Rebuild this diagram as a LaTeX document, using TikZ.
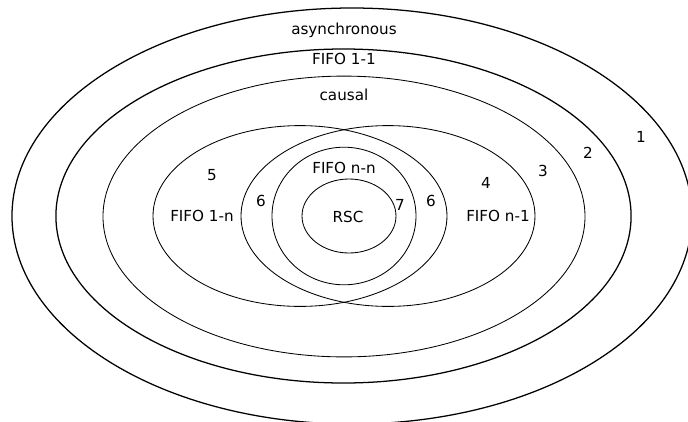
\documentclass[tikz,border=0pt]{standalone}
\usepackage{fontspec}
\setmainfont{DejaVu Sans}

\begin{document}
\begin{tikzpicture}[every node/.style={font=\fontsize{10.8}{13}\selectfont, inner sep=1pt}]
        \useasboundingbox (-8.6,-5.125) rectangle (8.6,5.4);

        % the classes, outside in
        \draw [line width=0.9pt] (0.2,0) ellipse (8.5 and 5.2);
        \draw [line width=0.9pt] (-0.0125,0) ellipse (7.19 and 4.175);
        \draw [line width=0.6pt] (0,-0.0125) ellipse (6.025 and 3.51);
        \draw [line width=0.6pt] (-1.1,0) ellipse (3.675 and 2.26);
        \draw [line width=0.6pt] (1.1,0) ellipse (3.675 and 2.26);
        \draw [line width=0.6pt] (0,0) ellipse (1.8 and 1.72);
        \draw [line width=0.6pt] (0.125,0) ellipse (1.175 and 0.925);

        \node (async) at (0,4.65) {asynchronous};
        \node (fifo11) at (0,3.925) {FIFO 1-1};
        \node (causal) at (0,3.025) {causal};
        \node (fifo1n) at (-3.55,0) {FIFO 1-n};
        \node (fifon1) at (3.85,0) {FIFO n-1};
        \node (fifonn) at (0,1.2) {FIFO n-n};
        \node (rsc) at (0.1,-0.025) {RSC};

        \node (r1) at (7.425,1.975) {1};
        \node (r2) at (6.1,1.575) {2};
        \node (r3) at (4.975,1.125) {3};
        \node (r4) at (3.55,0.825) {4};
        \node (r5) at (-3.3,1.025) {5};
        \node (r6a) at (-2.075,0.375) {6};
        \node (r6b) at (2.175,0.375) {6};
        \node (r7) at (1.4,0.275) {7};
      \end{tikzpicture}
\end{document}
